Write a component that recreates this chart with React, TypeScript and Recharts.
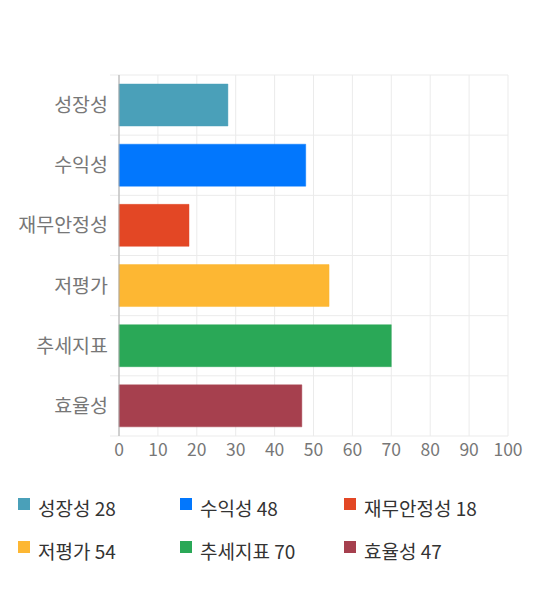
import React from 'react';
import { BarChart, Bar, XAxis, YAxis, CartesianGrid, Cell, usePlotArea } from 'recharts';

const categories = ['성장성', '수익성', '재무안정성', '저평가', '추세지표', '효율성'];
const scores = [28, 48, 18, 54, 70, 47];
const colors = ['#4aa0b9', '#0277fd', '#e34725', '#fdb733', '#2aa857', '#a6404e'];
const xTicks = [0, 10, 20, 30, 40, 50, 60, 70, 80, 90, 100];

const FONT = "'Noto Sans CJK KR', 'Noto Sans', sans-serif";

const data = categories.map((name, i) => ({ name, value: scores[i] }));

// band edges, so the grid sits between categories instead of through them
const bandEdges = ({ offset }: any) =>
  categories.map((_, i) => offset.top + (i * offset.height) / categories.length).concat(offset.top + offset.height);

// short stubs of the horizontal grid that poke out left of the axis
const GridStubs = () => {
  const area = usePlotArea();
  if (!area) return null;
  const n = categories.length;
  return (
    <g>
      {Array.from({ length: n + 1 }, (_, i) => {
        const y = area.y + (i * area.height) / n;
        return <line key={i} x1={area.x - 9} x2={area.x} y1={y} y2={y} stroke="#ebebeb" />;
      })}
    </g>
  );
};

const App: React.FC = () => {
  return (
    <div style={{ position: 'absolute', left: 0, top: 0, width: 540, height: 590, background: '#fff', fontFamily: FONT }}>
      <BarChart
        layout="vertical"
        width={540}
        height={470}
        data={data}
        margin={{ top: 75, right: 32, left: 0, bottom: 0 }}
        barCategoryGap="15%"
      >
        <CartesianGrid stroke="#ebebeb" horizontalCoordinatesGenerator={bandEdges} />
        <GridStubs />
        <XAxis
          type="number"
          domain={[0, 100]}
          ticks={xTicks}
          height={34}
          axisLine={false}
          tickLine={false}
          tick={{ fill: '#777', fontSize: 17.5, fontFamily: FONT }}
          interval={0}
        />
        <YAxis
          type="category"
          dataKey="name"
          width={119}
          tickLine={false}
          tickMargin={5}
          axisLine={{ stroke: '#aaa' }}
          tick={{ fill: '#777', fontSize: 19.5, fontFamily: FONT }}
        />
        <Bar dataKey="value" isAnimationActive={false}>
          {data.map((d, i) => (
            <Cell key={d.name} fill={colors[i]} stroke={colors[i]} strokeOpacity={0.45} />
          ))}
        </Bar>
      </BarChart>
      <div
        style={{
          position: 'absolute',
          left: 18,
          top: 495,
          width: 520,
          display: 'grid',
          gridTemplateColumns: '162px 164px 180px',
          rowGap: 17,
        }}
      >
        {categories.map((name, i) => (
          <div key={name} style={{ display: 'flex', alignItems: 'flex-start', height: 26 }}>
            <span style={{ width: 12, height: 12, background: colors[i], marginTop: 3, marginRight: 8, flexShrink: 0 }} />
            <span style={{ fontSize: 19, color: '#333', lineHeight: '26px', whiteSpace: 'nowrap' }}>
              {name} {scores[i]}
            </span>
          </div>
        ))}
      </div>
    </div>
  );
};

export default App;
